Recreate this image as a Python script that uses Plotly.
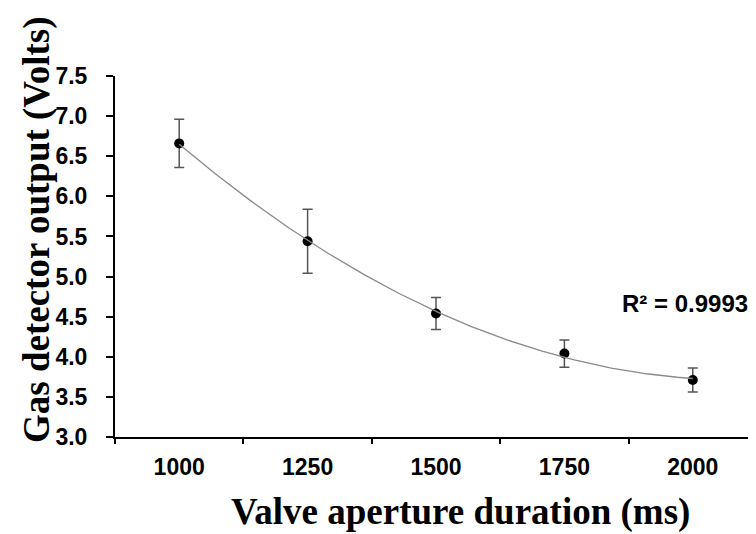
import numpy as np
import plotly.graph_objects as go

# Data
durations = [1000, 1250, 1500, 1750, 2000]           # Valve aperture duration (ms)
voltage = [6.66, 5.44, 4.54, 4.04, 3.71]             # Gas detector output (Volts)
voltage_err = [0.30, 0.40, 0.20, 0.17, 0.15]         # error bar half-lengths
x_tick_labels = ["1000", "1250", "1500", "1750", "2000"]
y_tick_values = [3.0, 3.5, 4.0, 4.5, 5.0, 5.5, 6.0, 6.5, 7.0, 7.5]
category_bounds = [875, 1125, 1375, 1625, 1875, 2125]
r2_label = "R² = 0.9993"

# Second-order polynomial trendline (as in the spreadsheet chart)
coef = np.polyfit(durations, voltage, 2)
fit_x = np.linspace(durations[0], durations[-1], 200)
fit_y = np.polyval(coef, fit_x)

sans = "Liberation Sans, Arial, sans-serif"
serif = "Liberation Serif, Times New Roman, serif"

fig = go.Figure()
fig.add_trace(go.Scatter(
    x=fit_x, y=fit_y, mode="lines", xaxis="x2",
    line=dict(color="#8a8a8a", width=1.3), hoverinfo="skip", showlegend=False))
fig.add_trace(go.Scatter(
    x=durations, y=voltage, mode="markers",
    marker=dict(color="black", size=10),
    error_y=dict(type="data", array=voltage_err, visible=True,
                 color="#555555", thickness=1.5, width=5),
    showlegend=False))

fig.update_layout(
    width=756, height=534,
    margin=dict(l=107, r=7, t=68, b=105),
    paper_bgcolor="white", plot_bgcolor="white",
    xaxis=dict(
        range=[category_bounds[0], category_bounds[-1]],
        tickvals=durations, ticktext=x_tick_labels,
        ticks="", showline=True, linecolor="black", linewidth=2,
        showgrid=False, zeroline=False, ticklabelstandoff=8,
        tickfont=dict(family=sans, size=23, color="black", weight="bold")),
    xaxis2=dict(
        range=[category_bounds[0], category_bounds[-1]],
        overlaying="x", anchor="y", side="bottom",
        tickvals=category_bounds, showticklabels=False,
        ticks="outside", ticklen=6, tickwidth=2, tickcolor="black",
        showline=False, showgrid=False, zeroline=False),
    yaxis=dict(
        range=[3.0, 7.5], tickvals=y_tick_values, tickformat=".1f",
        ticks="outside", ticklen=7, tickwidth=2, tickcolor="black",
        showline=True, linecolor="black", linewidth=2,
        showgrid=False, zeroline=False, ticklabelstandoff=14,
        tickfont=dict(family=sans, size=23, color="black", weight="bold")),
    annotations=[
        dict(text="Valve aperture duration (ms)", xref="paper", yref="paper",
             x=(452 - 107) / 642, y=-(504 - 429) / 361,
             xanchor="center", yanchor="middle", showarrow=False,
             font=dict(family=serif, size=37, color="black", weight="bold")),
        dict(text="Gas detector output (Volts)", xref="paper", yref="paper",
             x=(29 - 107) / 642, y=(429 - 222) / 361, textangle=-90,
             xanchor="center", yanchor="middle", showarrow=False,
             font=dict(family=serif, size=37, color="black", weight="bold")),
        dict(text=r2_label, xref="paper", yref="paper",
             x=(677 - 107) / 642, y=(429 - 295) / 361,
             xanchor="center", yanchor="middle", showarrow=False,
             font=dict(family=sans, size=24, color="black", weight="bold")),
    ],
)

fig.write_html("out.html")
